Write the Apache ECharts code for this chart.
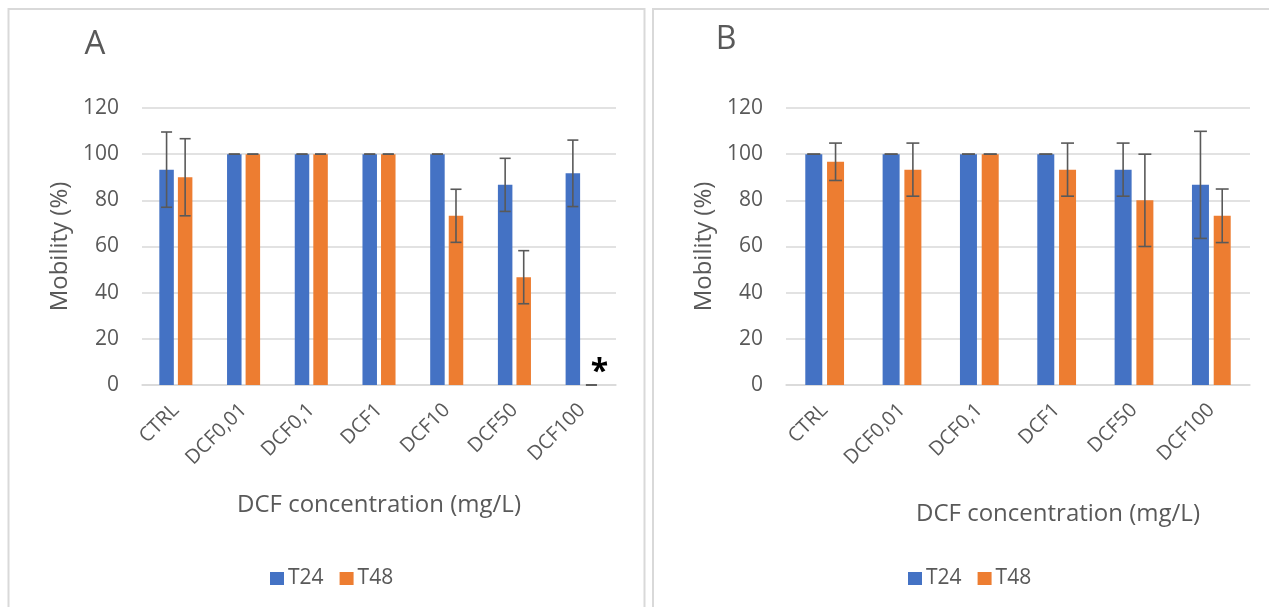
<!DOCTYPE html>
<html>
<head>
<meta charset="UTF-8">
<title>Mobility vs DCF concentration</title>
<script src="https://cdn.jsdelivr.net/npm/echarts@6/dist/echarts.min.js"></script>
<style>
    html, body { margin: 0; padding: 0; background: #fff; }
    #chart { width: 1269px; height: 607px; }
</style>
</head>
<body>
<div id="chart"></div>
<script>
    // panel A
    const catsA = ['CTRL', 'DCF0,01', 'DCF0,1', 'DCF1', 'DCF10', 'DCF50', 'DCF100'];
    const t24A = [93.3, 100, 100, 100, 100, 86.7, 91.7];
    const t24ErrA = [16.3, 0, 0, 0, 0, 11.5, 14.4];
    const t48A = [90, 100, 100, 100, 73.3, 46.7, 0];
    const t48ErrA = [16.7, 0, 0, 0, 11.5, 11.5, 0];
    const sigA = ['', '', '', '', '', '', '*'];

    // panel B
    const catsB = ['CTRL', 'DCF0,01', 'DCF0,1', 'DCF1', 'DCF50', 'DCF100'];
    const t24B = [100, 100, 100, 100, 93.3, 86.7];
    const t24ErrB = [0, 0, 0, 0, 11.5, 23.2];
    const t48B = [96.7, 93.3, 100, 93.3, 80, 73.3];
    const t48ErrB = [8.1, 11.5, 0, 11.5, 20, 11.6];

    const FONT = 'Open Sans';
    const TXT = '#595959';
    const BLUE = '#4472C4';
    const ORANGE = '#ED7D31';
    const GAP = 0.28;

    function errSeries(name, vals, errs, gridIdx, barW, side, sig) {
        const offset = side * barW * (1 + GAP) / 2;
        return {
            name: name,
            type: 'custom',
            xAxisIndex: gridIdx,
            yAxisIndex: gridIdx,
            z: 5,
            data: vals.map((v, i) => [i, v, errs[i]]),
            renderItem: function (params, api) {
                const i = api.value(0), v = api.value(1), e = api.value(2);
                const x = api.coord([i, v])[0] + offset;
                const yTop = api.coord([i, v + e])[1];
                const yBot = api.coord([i, Math.max(v - e, 0)])[1];
                const cap = barW * 0.38;
                const st = { stroke: '#595959', lineWidth: 1.6 };
                const kids = [
                    { type: 'line', shape: { x1: x, y1: yTop, x2: x, y2: yBot }, style: st },
                    { type: 'line', shape: { x1: x - cap, y1: yTop, x2: x + cap, y2: yTop }, style: st },
                    { type: 'line', shape: { x1: x - cap, y1: yBot, x2: x + cap, y2: yBot }, style: st }
                ];
                if (sig && sig[i]) {
                    const base = api.coord([i, 0]);
                    kids.push({
                        type: 'text',
                        style: {
                            text: sig[i], x: x + 8, y: base[1] - 12,
                            fill: '#000', font: 'bold 32px ' + FONT,
                            align: 'center', verticalAlign: 'middle'
                        }
                    });
                }
                return { type: 'group', children: kids };
            }
        };
    }

    function barSeries(name, vals, gridIdx, barW, color) {
        return {
            name: name,
            type: 'bar',
            xAxisIndex: gridIdx,
            yAxisIndex: gridIdx,
            barWidth: barW,
            barGap: (GAP * 100) + '%',
            itemStyle: { color: color },
            data: vals
        };
    }

    function xAxisFor(cats, gridIdx) {
        return {
            type: 'category',
            gridIndex: gridIdx,
            data: cats,
            axisLine: { lineStyle: { color: '#d9d9d9', width: 1.5 } },
            axisTick: { show: false },
            axisLabel: { interval: 0, rotate: 45, margin: 22, color: TXT, fontFamily: FONT, fontSize: 20 }
        };
    }

    function yAxisFor(gridIdx) {
        return {
            type: 'value',
            gridIndex: gridIdx,
            min: 0, max: 120, interval: 20,
            name: 'Mobility (%)',
            nameLocation: 'middle',
            nameGap: 70,
            nameTextStyle: { color: TXT, fontFamily: FONT, fontSize: 24 },
            axisLine: { show: false },
            axisTick: { show: false },
            splitLine: { lineStyle: { color: '#d9d9d9', width: 1.5 } },
            axisLabel: { color: TXT, fontFamily: FONT, fontSize: 21, margin: 23 }
        };
    }

    function legendAt(left) {
        return {
            left: left, top: 568, padding: 0,
            itemWidth: 14, itemHeight: 13, itemGap: 16,
            icon: 'rect',
            data: ['T24', 'T48'],
            textStyle: { color: TXT, fontFamily: FONT, fontSize: 21, padding: [0, 0, 0, -1] }
        };
    }

    const chart = echarts.init(document.getElementById('chart'));
    chart.setOption({
        animation: false,
        grid: [
            { left: 142, top: 108, width: 474, height: 277 },
            { left: 786, top: 108, width: 464, height: 277 }
        ],
        xAxis: [xAxisFor(catsA, 0), xAxisFor(catsB, 1)],
        yAxis: [yAxisFor(0), yAxisFor(1)],
        legend: [legendAt(270), legendAt(908)],
        graphic: [
            { type: 'rect', shape: { x: 8.5, y: 9, width: 636, height: 610 },
              style: { fill: 'none', stroke: '#d9d9d9', lineWidth: 2 }, silent: true },
            { type: 'rect', shape: { x: 653, y: 9, width: 630, height: 610 },
              style: { fill: 'none', stroke: '#d9d9d9', lineWidth: 2 }, silent: true },
            { type: 'text', x: 95, y: 45, style: { text: 'A', fill: TXT, font: '33px ' + FONT, align: 'center', verticalAlign: 'middle' } },
            { type: 'text', x: 726, y: 40, style: { text: 'B', fill: TXT, font: '32px ' + FONT, align: 'center', verticalAlign: 'middle' } },
            { type: 'text', x: 379, y: 505, style: { text: 'DCF concentration (mg/L)', fill: TXT, font: '24px ' + FONT, align: 'center', verticalAlign: 'middle' } },
            { type: 'text', x: 1058, y: 514, style: { text: 'DCF concentration (mg/L)', fill: TXT, font: '24px ' + FONT, align: 'center', verticalAlign: 'middle' } }
        ],
        series: [
            barSeries('T24', t24A, 0, 14.5, BLUE),
            barSeries('T48', t48A, 0, 14.5, ORANGE),
            barSeries('T24', t24B, 1, 17, BLUE),
            barSeries('T48', t48B, 1, 17, ORANGE),
            errSeries('T24', t24A, t24ErrA, 0, 14.5, -1),
            errSeries('T48', t48A, t48ErrA, 0, 14.5, 1, sigA),
            errSeries('T24', t24B, t24ErrB, 1, 17, -1),
            errSeries('T48', t48B, t48ErrB, 1, 17, 1)
        ]
    });
</script>
</body>
</html>
